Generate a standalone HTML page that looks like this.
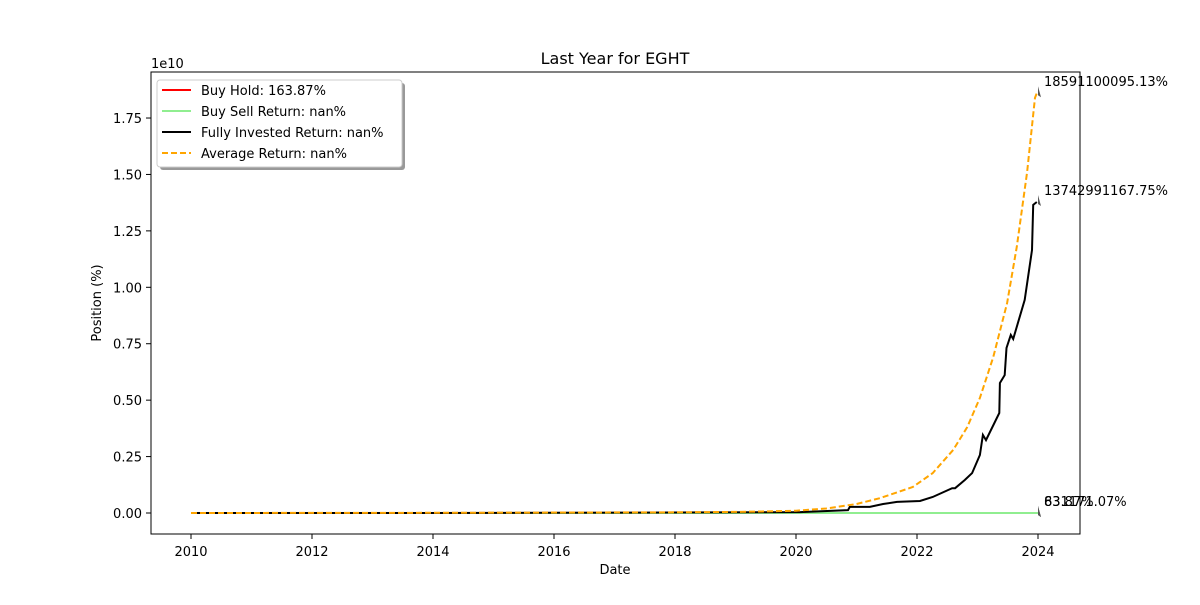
<!DOCTYPE html>
<html><head><meta charset="utf-8"><style>
body{margin:0;background:#fff}
svg text{font-family:"DejaVu Sans","Liberation Sans",sans-serif;fill:#000}
</style></head><body>
<svg id="chart" width="1200" height="600" viewBox="0 0 1200 600">
<rect width="1200" height="600" fill="#fff"/>
<text x="615" y="64" font-size="16" text-anchor="middle">Last Year for EGHT</text>
<text x="151" y="68" font-size="13">1e10</text>
<g id="grid"></g>
<g id="series"></g>
<rect x="151" y="72" width="929" height="462" fill="none" stroke="#000" stroke-width="1"/>
<text x="615" y="574" font-size="13" text-anchor="middle">Date</text>
<text x="0" y="0" font-size="13" text-anchor="middle" transform="translate(101,303) rotate(-90)">Position (%)</text>
<g>
<rect x="160" y="83" width="245" height="87" rx="3" fill="#999"/>
<rect x="157" y="80" width="245" height="87" rx="3" fill="#fff" stroke="#ccc"/>
<line x1="162" y1="90" x2="191" y2="90" stroke="red" stroke-width="2"/>
<text x="201" y="95" font-size="13">Buy Hold: 163.87%</text>
<line x1="162" y1="111" x2="191" y2="111" stroke="lightgreen" stroke-width="2"/>
<text x="201" y="116" font-size="13">Buy Sell Return: nan%</text>
<line x1="162" y1="132" x2="191" y2="132" stroke="#000" stroke-width="2"/>
<text x="201" y="137" font-size="13">Fully Invested Return: nan%</text>
<line x1="162" y1="153" x2="191" y2="153" stroke="orange" stroke-width="2" stroke-dasharray="6,3"/>
<text x="201" y="158" font-size="13">Average Return: nan%</text>
</g>
</svg>
<script>
const yTicks=[0,0.25,0.5,0.75,1.0,1.25,1.5,1.75];
const yTickLabels=["0.00","0.25","0.50","0.75","1.00","1.25","1.50","1.75"];
const xTicks=[2010,2012,2014,2016,2018,2020,2022,2024];
const fullyYears=[2010,2012,2014,2016,2018,2019.5,2020.07,2020.86,2020.89,2021.22,2021.44,2021.67,2022.05,2022.26,2022.58,2022.63,2022.79,2022.91,2023.04,2023.09,2023.14,2023.36,2023.37,2023.45,2023.48,2023.55,2023.59,2023.78,2023.90,2023.92,2023.98];
const fullyValues=[0,0,0,0.001,0.002,0.003,0.004,0.013,0.027,0.027,0.04,0.049,0.053,0.071,0.11,0.11,0.146,0.177,0.257,0.346,0.323,0.443,0.576,0.611,0.731,0.789,0.771,0.944,1.165,1.365,1.378];
const avgYears=[2010,2014,2018,2019,2019.5,2020,2020.5,2021,2021.39,2021.93,2022.26,2022.6,2022.83,2023.04,2023.26,2023.49,2023.65,2023.82,2023.95,2023.98];
const avgValues=[0,0.001,0.003,0.005,0.007,0.01,0.02,0.04,0.066,0.115,0.177,0.28,0.38,0.51,0.69,0.93,1.18,1.51,1.84,1.86];
const buySellYears=[2010,2024];
const buySellValues=[0,0];
const endLabels=["18591100095.13%","13742991167.75%","63.87%","831171.07%"];
const endValues=[1.86,1.378,0,0];
const X=y=>191+(y-2010)*60.5;
const Y=v=>513-v*225.7;
const NS="http://www.w3.org/2000/svg";
const svg=document.getElementById('chart'),grid=document.getElementById('grid'),ser=document.getElementById('series');
function mk(tag,attrs,parent){const e=document.createElementNS(NS,tag);for(const k in attrs)e.setAttribute(k,attrs[k]);parent.appendChild(e);return e;}
yTicks.forEach((v,i)=>{
 const l=mk('line',{x1:146,x2:151,y1:Y(v),y2:Y(v),stroke:'#000'},grid);
 
 
 const t=mk('text',{x:142,y:Y(v)+5,'font-size':13,'text-anchor':'end'},grid);t.textContent=yTickLabels[i];
 
 
});
xTicks.forEach(v=>{
 const l=mk('line',{x1:X(v),x2:X(v),y1:534,y2:539,stroke:'#000'},grid);
 
 
 const t=mk('text',{x:X(v),y:556,'font-size':13,'text-anchor':'middle'},grid);t.textContent=v;
 
 
});
function pts(xs,ys){return xs.map((x,i)=>X(x).toFixed(1)+','+Y(ys[i]).toFixed(1)).join(' ');}
const redL=mk('polyline',{points:pts(buySellYears,buySellValues),fill:'none',stroke:'red','stroke-width':1.5},ser);


const g=mk('polyline',{points:pts(buySellYears,buySellValues),fill:'none',stroke:'lightgreen','stroke-width':2},ser);


const b=mk('polyline',{points:pts(fullyYears,fullyValues),fill:'none',stroke:'#000','stroke-width':2},ser);


const o=mk('polyline',{points:pts(avgYears,avgValues),fill:'none',stroke:'orange','stroke-width':2,'stroke-dasharray':'6,3'},ser);


endLabels.forEach((s,i)=>{
 const y=Y(endValues[i]);
 const m=mk('path',{d:`M${X(2024)},${y-7} L${X(2024)+3},${y+4} L${X(2024)},${y+2} Z`,fill:'#555'},ser);
 
 
 const t=mk('text',{x:1044,y:y-7,'font-size':13},ser);t.textContent=s;
 
 
});
</script>
</body></html>
